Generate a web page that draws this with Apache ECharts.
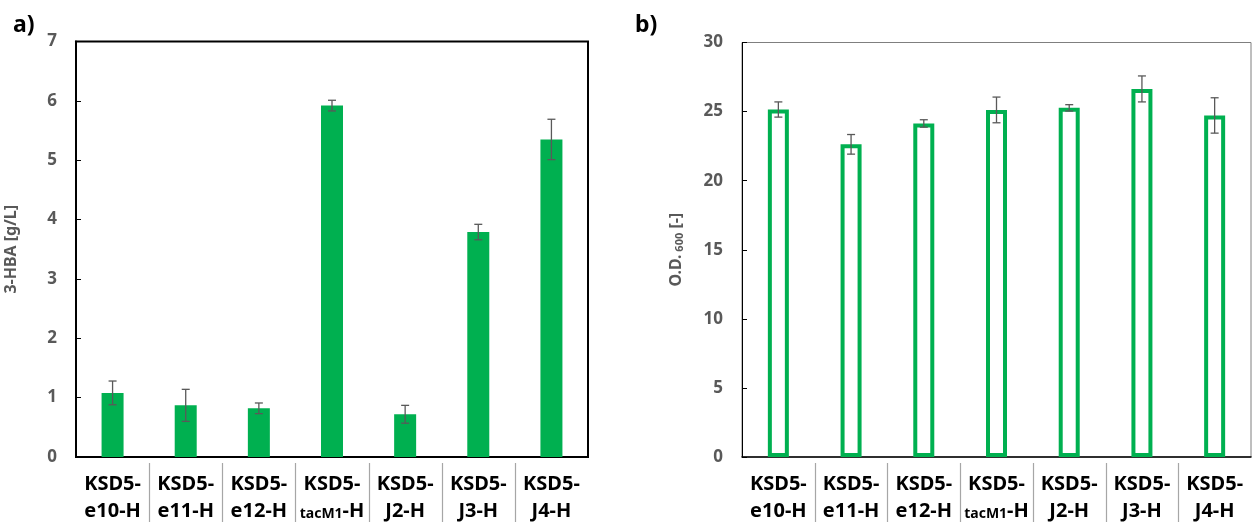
<!DOCTYPE html>
<html><head><meta charset="utf-8">
<script src="https://cdn.jsdelivr.net/npm/echarts@6/dist/echarts.min.js"></script>
<style>html,body{margin:0;padding:0;background:#fff}#c{width:1258px;height:525px}</style>
</head><body><div id="c"></div>
<script>
const categories = ['e10-H','e11-H','e12-H','tacM1-H','J2-H','J3-H','J4-H'];
const hbaValues = [1.08, 0.87, 0.82, 5.92, 0.72, 3.79, 5.35];
const hbaErrors = [0.20, 0.27, 0.09, 0.09, 0.15, 0.13, 0.34];
const odValues = [25.15, 22.63, 24.14, 25.12, 25.27, 26.64, 24.72];
const odErrors = [0.55, 0.71, 0.27, 0.93, 0.23, 0.94, 1.28];
const hbaTicks = {min:0, max:7, interval:1};
const odTicks = {min:0, max:30, interval:5};

const GREEN = '#00b050';
const GREY = '#595959';
const FONT = '"Noto Sans", sans-serif';

const chart = echarts.init(document.getElementById('c'), null, {renderer:'canvas'});

function errData(v, e){ return v.map((x,i)=>[i, x-e[i], x+e[i]]); }
function errRender(params, api){
  const lo = api.coord([api.value(0), api.value(1)]);
  const hi = api.coord([api.value(0), api.value(2)]);
  const w = 4;
  const st = {stroke: GREY, lineWidth: 1.3};
  return {type:'group', children:[
    {type:'line', shape:{x1:lo[0],y1:lo[1],x2:hi[0],y2:hi[1]}, style:st},
    {type:'line', shape:{x1:lo[0]-w,y1:lo[1],x2:lo[0]+w,y2:lo[1]}, style:st},
    {type:'line', shape:{x1:hi[0]-w,y1:hi[1],x2:hi[0]+w,y2:hi[1]}, style:st}
  ]};
}
function sepRender(params, api){
  const i = api.value(0);
  const c = api.coord([i, 0]);
  const half = api.size([1, 0])[0] / 2;
  const x = Math.round(c[0] - half) + 0.5;
  return {type:'line', shape:{x1:x, y1:c[1]+6, x2:x, y2:c[1]+65},
    style:{stroke:'#a6a6a6', lineWidth:1.2}};
}
const sepData = categories.slice(1).map((_,k)=>[k+1]);

function xAxisCfg(gi){
  return {
    type:'category', gridIndex:gi, data:categories,
    axisLine:{show:true, lineStyle:{color:'#000', width: gi===0?2:1.5}},
    axisTick:{show:false},
    axisLabel:{
      interval:0, margin:14, color:'#000', fontFamily:FONT, fontWeight:'bold', fontSize:20, lineHeight:27,
      formatter:(v)=> v==='tacM1-H' ? 'KSD5-\n{s|tacM1}{b|-H}' : 'KSD5-\n'+v,
      rich:{
        s:{fontSize:14, fontWeight:'bold', fontFamily:FONT, color:'#000', lineHeight:27, padding:[5,0,0,0]},
        b:{fontSize:20, fontWeight:'bold', fontFamily:FONT, color:'#000', lineHeight:27}
      }
    }
  };
}
function yAxisCfg(gi, t, name){
  return {
    type:'value', gridIndex:gi, min:t.min, max:t.max, interval:t.interval,
    splitLine:{show:false},
    axisLine:{show:true, lineStyle:{color:'#000', width: gi===0?2:1}},
    axisTick:{show:true, inside:true, length:5, lineStyle:{color:'#000', width:1}},
    axisLabel:{margin:19, color:GREY, fontFamily:FONT, fontWeight:'bold', fontSize:17},
    name:name, nameLocation:'middle', nameGap:57, nameRotate:90,
    nameTextStyle:{color:GREY, fontFamily:FONT, fontWeight:'bold', fontSize:16,
      rich:{a:{color:GREY, fontFamily:FONT, fontWeight:'bold', fontSize:16},
            s:{color:GREY, fontFamily:FONT, fontWeight:'bold', fontSize:11, padding:[6,0,0,0]}}}
  };
}

chart.setOption({
  animation:false,
  backgroundColor:'#fff',
  title:[
    {text:'a)', left:8, top:9, textStyle:{fontFamily:FONT, fontWeight:'bold', fontSize:23, color:'#000'}},
    {text:'b)', left:630, top:9, textStyle:{fontFamily:FONT, fontWeight:'bold', fontSize:23, color:'#000'}}
  ],
  grid:[
    {left:76, right:670, top:41.5, bottom:67.5, show:true, borderColor:'#000', borderWidth:2, backgroundColor:'transparent'},
    {left:742, right:7, top:42.5, bottom:66, show:true, borderColor:'#7f7f7f', borderWidth:1, backgroundColor:'transparent'}
  ],
  xAxis:[xAxisCfg(0), xAxisCfg(1)],
  yAxis:[yAxisCfg(0, hbaTicks, '3-HBA [g/L]'), yAxisCfg(1, odTicks, '{a|O.D.}{s| 600} {a|[-]}')],
  series:[
    {type:'bar', xAxisIndex:0, yAxisIndex:0, data:hbaValues, barWidth:22,
      itemStyle:{color:GREEN}},
    {type:'custom', xAxisIndex:0, yAxisIndex:0, data:errData(hbaValues,hbaErrors), renderItem:errRender, z:5},
    {type:'custom', xAxisIndex:0, yAxisIndex:0, data:sepData, renderItem:sepRender, clip:false, z:5},
    {type:'bar', xAxisIndex:1, yAxisIndex:1, data:odValues, barWidth:21,
      itemStyle:{color:'rgba(255,255,255,0)', borderColor:GREEN, borderWidth:4}},
    {type:'custom', xAxisIndex:1, yAxisIndex:1, data:errData(odValues,odErrors), renderItem:errRender, z:5},
    {type:'custom', xAxisIndex:1, yAxisIndex:1, data:sepData, renderItem:sepRender, clip:false, z:5}
  ]
});
</script></body></html>
